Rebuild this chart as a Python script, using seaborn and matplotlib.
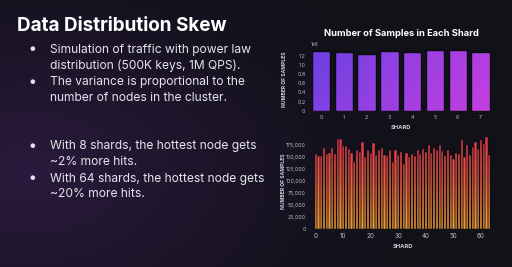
import numpy as np
import pandas as pd
import matplotlib
matplotlib.use("Agg")
import matplotlib.pyplot as plt
import seaborn as sns
from matplotlib.path import Path
from matplotlib.patches import PathPatch
from matplotlib.colors import LinearSegmentedColormap, to_rgb
from matplotlib.ticker import FuncFormatter, StrMethodFormatter, MultipleLocator

# ---------------- data ----------------
shards_8 = list(range(8))
samples_8 = [1.30e6, 1.27e6, 1.24e6, 1.30e6, 1.28e6, 1.31e6, 1.32e6, 1.27e6]

shards_64 = list(range(64))
samples_64 = [155300, 151800, 151800, 168000, 155300, 156700, 168000, 155300,
              187000, 187000, 172900, 172900, 165200, 156700, 137800, 163800,
              159500, 180600, 148300, 163800, 158100, 179200, 153200, 163800,
              167300, 153200, 151800, 163800, 137800, 163800, 153200, 158800,
              134200, 156700, 149700, 154600, 151100, 163800, 154600, 165900,
              160200, 174300, 156700, 167300, 163100, 174300, 162400, 151800,
              163800, 153200, 144800, 156700, 155300, 184900, 148300, 174300,
              153200, 170800, 179900, 165900, 184900, 175700, 191200, 153200]

slide_title = "Data Distribution Skew"
bullets_1 = [["Simulation of traffic with power law", "distribution (500K keys, 1M QPS)."],
             ["The variance is proportional to the", "number of nodes in the cluster."]]
bullets_2 = [["With 8 shards, the hottest node gets", "~2% more hits."],
             ["With 64 shards, the hottest node gets", "~20% more hits."]]
chart_title = "Number of Samples in Each Shard"

# ---------------- figure ----------------
sns.set_theme(style="dark")
plt.rcParams['font.family'] = ['Inter', 'DejaVu Sans']
W, H = 512, 267
fig = plt.figure(figsize=(W / 100, H / 100), dpi=100)


def fx(x):
    return x / W


def fy(y):
    return 1 - y / H


# background gradient
bg = fig.add_axes([0, 0, 1, 1], zorder=-10)
yy, xx = np.mgrid[0:1:200j, 0:1:400j]
base = np.array(to_rgb("#111119"))
glow = np.array(to_rgb("#2b1a3e"))
d = np.sqrt(((xx - 0.05) / 0.75) ** 2 + ((yy - 0.65) / 0.9) ** 2)
w = np.clip(1 - d, 0, 1) ** 1.2
img = base[None, None, :] * (1 - w[..., None]) + glow[None, None, :] * w[..., None]
bg.imshow(img, extent=[0, 1, 0, 1], aspect="auto", origin="upper")
bg.axis("off")


def gradient_fill(ax, xlim, ylim, cmap, horizontal_weight, vertical_weight):
    patches = list(ax.patches)
    paths = [p.get_path().transformed(p.get_patch_transform()) for p in patches]
    compound = Path.make_compound_path(*paths)
    clip = PathPatch(compound, transform=ax.transData, facecolor="none", edgecolor="none")
    gy, gx = np.mgrid[0:1:200j, 0:1:200j]
    t = horizontal_weight * gx + vertical_weight * gy
    t = (t - t.min()) / (t.max() - t.min())
    im = ax.imshow(t, cmap=cmap, extent=[xlim[0], xlim[1], ylim[0], ylim[1]],
                   aspect="auto", origin="upper", zorder=0.5, vmin=0, vmax=1)
    im.set_clip_path(clip)
    for p in patches:
        p.set_facecolor("none")
        p.set_zorder(2)
    ax.set_xlim(*xlim)
    ax.set_ylim(*ylim)


tick_color = "#b8b8c0"

# ---------------- top chart ----------------
ax1 = fig.add_axes([fx(309.6), fy(110.7), 182.4 / W, 63.7 / H])
ax1.set_facecolor("none")
df8 = pd.DataFrame({"shard": shards_8, "samples": samples_8})
sns.barplot(data=df8, x="shard", y="samples", ax=ax1, width=0.8,
            color="#8a40e0", edgecolor="#0a0a10", linewidth=1.0)
cmap1 = LinearSegmentedColormap.from_list("p", ["#6a40e2", "#9a40e2", "#c63ee0"])
gradient_fill(ax1, (-0.5, 7.5), (0, 1.385e6), cmap1, 0.8, 0.2)
ax1.yaxis.set_major_locator(MultipleLocator(0.2e6))
ax1.yaxis.set_major_formatter(FuncFormatter(lambda v, p: "0" if abs(v) < 1 else f"{v/1e6:.1f}"))
ax1.tick_params(axis="both", length=0, pad=3, labelsize=3.8, labelcolor=tick_color)
ax1.set_xlabel("SHARD", fontsize=4.2, fontweight="bold", color="#d0d0d8")
ax1.set_ylabel("NUMBER OF SAMPLES", fontsize=3.6, fontweight="bold", color="#d0d0d8")
ax1.xaxis.set_label_coords(0.5, -0.22)
ax1.yaxis.set_label_coords(-0.124, 0.5)
for s in ax1.spines.values():
    s.set_visible(False)
ax1.grid(False)
fig.text(fx(315), fy(44.7), "1e6", fontsize=3.5, color=tick_color, ha="center", va="center")
fig.text(fx(401), fy(34), chart_title, fontsize=6.7, fontweight="bold", color="white",
         ha="center", va="center")

# ---------------- bottom chart ----------------
ax2 = fig.add_axes([fx(310), fy(228.7), 185 / W, 95.7 / H])
ax2.set_facecolor("none")
df64 = pd.DataFrame({"shard": shards_64, "samples": samples_64})
sns.barplot(data=df64, x="shard", y="samples", ax=ax2, native_scale=True, width=0.8,
            color="#e04040", edgecolor="#0a0a10", linewidth=0.35)
cmap2 = LinearSegmentedColormap.from_list("o", ["#e02f4e", "#e66040", "#f0a035"])
gradient_fill(ax2, (-2.07, 65.1), (0, 199000), cmap2, 0.0, 1.0)
ax2.xaxis.set_major_locator(MultipleLocator(10))
ax2.yaxis.set_major_locator(MultipleLocator(25000))
ax2.yaxis.set_major_formatter(StrMethodFormatter("{x:,.0f}"))
ax2.tick_params(axis="both", length=0, pad=3, labelsize=3.8, labelcolor=tick_color)
ax2.tick_params(axis="x", labelsize=4.5)
ax2.set_xlabel("SHARD", fontsize=4.2, fontweight="bold", color="#d0d0d8")
ax2.set_ylabel("NUMBER OF SAMPLES", fontsize=3.6, fontweight="bold", color="#d0d0d8")
ax2.xaxis.set_label_coords(0.5, -0.16)
ax2.yaxis.set_label_coords(-0.13, 0.5)
for s in ax2.spines.values():
    s.set_visible(False)
ax2.grid(False)

# ---------------- slide text ----------------
fig.text(fx(17), fy(31), slide_title, fontsize=13.6, fontweight="bold", color="white",
         ha="left", va="baseline")

text_color = "#e4e4ea"


def draw_bullets(groups, baselines):
    i = 0
    for group in groups:
        for j, line in enumerate(group):
            yb = baselines[i]
            if j == 0:
                fig.text(fx(32), fy(yb - 3.2), "\u25CF", fontsize=4.5, color=text_color,
                         ha="center", va="center")
            fig.text(fx(50), fy(yb), line, fontsize=8.7, color=text_color,
                     ha="left", va="baseline")
            i += 1


draw_bullets(bullets_1, [52.5, 68.8, 85.0, 101.2])
draw_bullets(bullets_2, [149.3, 165.3, 181.7, 197.0])

fig.savefig("out.png", dpi=100)
